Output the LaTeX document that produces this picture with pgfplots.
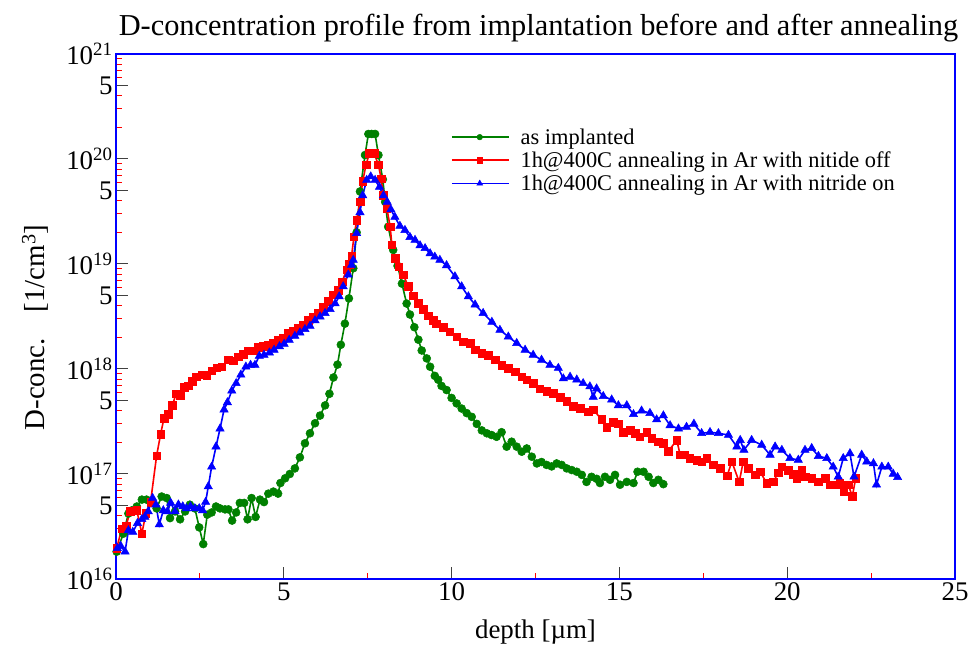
\documentclass[border=0pt]{standalone}
\usepackage{fontspec}
\setmainfont{Liberation Serif}
\usepackage{pgfplots}
\pgfplotsset{compat=1.18}
\definecolor{dgreen}{RGB}{0,128,0}
\begin{document}
\begin{tikzpicture}
\path[use as bounding box] (-116bp,-80bp) rectangle (853bp,579bp);
\begin{axis}[
  scale only axis, width=839bp, height=525bp,
  xmin=0, xmax=25, ymin=1e16, ymax=1e21, ymode=log,
  axis line style={blue, line width=2.5bp},
  tick pos=left, tick align=inside,
  xtick={0,5,10,15,20,25}, xticklabels={0,5,10,15,20,25},
  minor xtick={2.5,7.5,12.5,17.5,22.5},
  ytick={1e16,5e16,1e17,5e17,1e18,5e18,1e19,5e19,1e20,5e20,1e21},
  yticklabels={10\textsuperscript{16},5,10\textsuperscript{17},5,10\textsuperscript{18},5,10\textsuperscript{19},5,10\textsuperscript{20},5,10\textsuperscript{21}},
  minor ytick={2e16,3e16,4e16,6e16,7e16,8e16,9e16,2e17,3e17,4e17,6e17,7e17,8e17,9e17,2e18,3e18,4e18,6e18,7e18,8e18,9e18,2e19,3e19,4e19,6e19,7e19,8e19,9e19,2e20,3e20,4e20,6e20,7e20,8e20,9e20},
  major tick length=12bp, minor tick length=6bp,
  major tick style={black!75, line width=1bp},
  minor tick style={red, line width=1bp},
  ticklabel style={font=\fontsize{27}{30}\selectfont},
  title={D-concentration profile from implantation before and after annealing},
  title style={font=\fontsize{30.5}{33}\selectfont, at={(axis description cs:0.5,1)}, anchor=base, yshift=12bp, xshift=3bp},
  ylabel={D-conc.\hspace{0.9em}[1/cm\textsuperscript{3}]},
  ylabel style={font=\fontsize{29}{31}\selectfont, at={(axis description cs:-0.0965,0.479)}, anchor=center},
  xlabel={depth [µm]},
  xlabel style={font=\fontsize{27}{30}\selectfont, at={(axis description cs:0.5,0)}, anchor=center, yshift=-53bp},
  legend cell align=left,
  legend style={draw=none, fill=none, font=\fontsize{22.5}{24}\selectfont, at={(axis description cs:0.399,0.862)}, anchor=north west, inner sep=0pt, row sep=2bp, /tikz/every odd column/.append style={column sep=9bp}},
  legend image code/.code={\draw[mark repeat=2, mark phase=2, #1, every mark/.append style={scale=0.7}] plot coordinates {(0bp,0bp) (28bp,0bp) (57bp,0bp)};},
]
\addplot[dgreen, line width=1.6bp, mark=*, mark size=4bp, mark options={line width=0.5bp}] coordinates {
(0.02,1.82e16) (0.22,2.7e16) (0.37,4.2e16) (0.47,4.5e16) (0.62,4.9e16) (0.77,5.7e16) (0.91,5.7e16) (1.06,5.3e16) (1.21,4.7e16) (1.36,6.1e16) (1.51,5.9e16) (1.61,3.8e16) (1.76,4.4e16) (1.91,3.7e16) (2.06,4.4e16) (2.2,5.1e16) (2.35,4.7e16) (2.48,3.1e16) (2.6,2.15e16) (2.72,4.1e16) (2.85,4.3e16) (2.98,4.9e16) (3.1,4.7e16) (3.25,4.6e16) (3.35,4.6e16) (3.46,3.6e16) (3.58,4.3e16) (3.69,5.3e16) (3.82,5.3e16) (3.92,3.7e16) (4.04,5.9e16) (4.16,3.9e16) (4.29,5.7e16) (4.41,5.4e16) (4.54,6.5e16) (4.69,6.8e16) (4.83,6.5e16) (4.9,8.2e16) (5.04,9.1e16) (5.18,1.0e17) (5.33,1.13e17) (5.48,1.44e17) (5.63,1.96e17) (5.78,2.44e17) (5.93,3.04e17) (6.08,3.6e17) (6.23,4.5e17) (6.36,5.8e17) (6.48,8.3e17) (6.6,1.1e18) (6.7,1.7e18) (6.82,2.7e18) (6.94,4.7e18) (7.07,9.1e18) (7.17,2.0e19) (7.27,4.9e19) (7.42,1.09e20) (7.52,1.73e20) (7.62,1.73e20) (7.72,1.73e20) (7.82,1.09e20) (7.95,6.4e19) (8.02,3.9e19) (8.11,2.26e19) (8.26,1.36e19) (8.39,9.6e18) (8.52,6.5e18) (8.66,4.2e18) (8.76,3.3e18) (8.89,2.5e18) (9.01,1.9e18) (9.11,1.5e18) (9.26,1.26e18) (9.36,1.05e18) (9.5,8.6e17) (9.6,7.9e17) (9.7,6.9e17) (9.85,6.3e17) (10.0,5.3e17) (10.15,4.7e17) (10.3,4.2e17) (10.45,3.8e17) (10.6,3.5e17) (10.75,3.0e17) (10.9,2.6e17) (11.05,2.44e17) (11.19,2.35e17) (11.34,2.26e17) (11.49,2.5e17) (11.64,1.82e17) (11.79,2.03e17) (11.94,1.82e17) (12.09,1.63e17) (12.24,1.75e17) (12.39,1.46e17) (12.54,1.26e17) (12.68,1.3e17) (12.83,1.22e17) (12.98,1.18e17) (13.13,1.26e17) (13.28,1.22e17) (13.43,1.13e17) (13.58,1.09e17) (13.73,1.05e17) (13.88,9.8e16) (14.02,8.4e16) (14.17,9.4e16) (14.32,9.0e16) (14.42,8.2e16) (14.57,9.4e16) (14.72,8.8e16) (14.87,9.8e16) (15.02,7.9e16) (15.22,8.4e16) (15.42,8.2e16) (15.54,1.05e17) (15.72,1.05e17) (15.87,9.4e16) (16.01,8.2e16) (16.16,8.8e16) (16.31,8.0e16)
};
\addlegendentry{as implanted}
\addplot[red, line width=1.6bp, mark=square*, mark size=3.8bp, mark options={line width=0.5bp}] coordinates {
(0.02,1.96e16) (0.17,3.0e16) (0.3,3.2e16) (0.42,4.4e16) (0.62,4.5e16) (0.77,2.7e16) (0.89,4.2e16) (1.03,5.4e16) (1.21,1.49e17) (1.33,2.4e17) (1.43,3.4e17) (1.56,3.7e17) (1.68,4.5e17) (1.79,5.8e17) (1.91,5.6e17) (2.03,6.7e17) (2.15,6.9e17) (2.28,7.6e17) (2.4,8.4e17) (2.55,8.8e17) (2.7,8.7e17) (2.85,9.6e17) (3.0,1.03e18) (3.15,1.05e18) (3.34,1.22e18) (3.5,1.2e18) (3.65,1.31e18) (3.79,1.39e18) (3.94,1.49e18) (4.09,1.49e18) (4.24,1.6e18) (4.39,1.64e18) (4.54,1.69e18) (4.69,1.76e18) (4.84,1.89e18) (4.99,1.99e18) (5.13,2.19e18) (5.28,2.28e18) (5.43,2.44e18) (5.58,2.6e18) (5.73,2.9e18) (5.88,3.15e18) (6.03,3.4e18) (6.18,3.9e18) (6.33,4.4e18) (6.48,5.1e18) (6.62,5.6e18) (6.74,6.8e18) (6.87,8.8e18) (6.95,1.0e19) (7.02,1.2e19) (7.09,1.82e19) (7.17,2.6e19) (7.27,3.9e19) (7.35,6.1e19) (7.45,8.8e19) (7.55,1.13e20) (7.69,1.13e20) (7.82,8.8e19) (7.9,6.5e19) (7.97,4.5e19) (8.07,3.4e19) (8.17,2.26e19) (8.22,1.52e19) (8.32,1.13e19) (8.42,9.4e18) (8.56,7.9e18) (8.71,6.1e18) (8.86,5.0e18) (9.01,4.2e18) (9.16,3.7e18) (9.31,3.2e18) (9.46,2.9e18) (9.55,2.7e18) (9.75,2.5e18) (9.95,2.26e18) (10.15,2.03e18) (10.35,1.82e18) (10.55,1.76e18) (10.7,1.52e18) (10.9,1.41e18) (11.1,1.36e18) (11.3,1.22e18) (11.49,1.09e18) (11.69,1.02e18) (11.89,9.4e17) (12.09,8.4e17) (12.24,7.9e17) (12.43,7.3e17) (12.63,6.5e17) (12.83,6.1e17) (13.03,5.9e17) (13.23,5.4e17) (13.43,4.9e17) (13.63,4.4e17) (13.83,4.2e17) (14.07,3.9e17) (14.22,4.1e17) (14.47,3.3e17) (14.62,2.8e17) (14.82,3.1e17) (14.97,3.0e17) (15.12,2.5e17) (15.32,2.6e17) (15.47,2.44e17) (15.61,2.26e17) (15.81,2.5e17) (15.96,2.19e17) (16.16,2.03e17) (16.31,1.96e17) (16.46,1.65e17) (16.71,2.1e17) (16.81,1.52e17) (16.95,1.52e17) (17.1,1.41e17) (17.3,1.36e17) (17.45,1.31e17) (17.6,1.41e17) (17.8,1.22e17) (18.0,1.13e17) (18.21,9.6e16) (18.35,1.31e17) (18.57,8.4e16) (18.69,1.31e17) (18.84,1.13e17) (19.04,9.8e16) (19.19,1.05e17) (19.39,8.2e16) (19.59,8.4e16) (19.73,1.03e17) (19.84,1.17e17) (20.03,1.09e17) (20.18,1.0e17) (20.28,9.1e16) (20.43,1.09e17) (20.53,9.4e16) (20.73,9.1e16) (20.93,8.4e16) (21.13,9.1e16) (21.28,7.9e16) (21.48,7.9e16) (21.57,8.2e16) (21.69,6.8e16) (21.82,7.9e16) (21.94,6.1e16) (22.04,9.1e16)
};
\addlegendentry{1h@400C annealing in Ar with nitide off}
\addplot[blue, line width=1.6bp, mark=triangle*, mark size=4.8bp, mark options={line width=0.5bp}] coordinates {
(0.04,1.96e16) (0.14,2.06e16) (0.27,1.82e16) (0.37,2.9e16) (0.5,2.8e16) (0.64,3.4e16) (0.77,3.7e16) (0.86,3.9e16) (0.96,4.4e16) (1.09,5.9e16) (1.19,5.1e16) (1.29,3.3e16) (1.41,4.5e16) (1.53,4.4e16) (1.63,5.3e16) (1.76,4.4e16) (1.86,5.1e16) (1.99,4.9e16) (2.1,4.7e16) (2.22,4.9e16) (2.35,4.7e16) (2.48,4.7e16) (2.58,4.5e16) (2.67,5.4e16) (2.75,7.6e16) (2.85,1.17e17) (2.98,1.82e17) (3.1,2.7e17) (3.22,4.1e17) (3.32,4.8e17) (3.45,6.2e17) (3.58,7.3e17) (3.72,8.8e17) (3.87,1.05e18) (4.01,1.09e18) (4.14,1.09e18) (4.27,1.33e18) (4.41,1.36e18) (4.57,1.43e18) (4.71,1.52e18) (4.87,1.64e18) (5.01,1.73e18) (5.16,1.89e18) (5.33,2.06e18) (5.48,2.22e18) (5.63,2.39e18) (5.78,2.57e18) (5.93,2.9e18) (6.08,3.15e18) (6.23,3.4e18) (6.38,3.7e18) (6.53,4.2e18) (6.65,4.9e18) (6.77,6.1e18) (6.92,7.9e18) (7.02,9.8e18) (7.07,1.09e19) (7.17,1.96e19) (7.27,3.1e19) (7.35,4.5e19) (7.47,6.3e19) (7.59,6.8e19) (7.72,6.3e19) (7.85,5.4e19) (7.97,4.5e19) (8.08,3.9e19) (8.19,3.3e19) (8.31,2.8e19) (8.46,2.3e19) (8.61,2.1e19) (8.76,1.8e19) (8.91,1.69e19) (9.06,1.5e19) (9.21,1.41e19) (9.36,1.26e19) (9.5,1.17e19) (9.65,1.09e19) (9.85,9.7e18) (10.1,7.6e18) (10.3,6.1e18) (10.5,4.9e18) (10.7,4.1e18) (10.94,3.4e18) (11.2,2.8e18) (11.44,2.35e18) (11.69,2.03e18) (11.94,1.76e18) (12.19,1.52e18) (12.43,1.36e18) (12.68,1.22e18) (12.93,1.09e18) (13.18,1.02e18) (13.33,8.1e17) (13.53,8.4e17) (13.73,7.9e17) (13.92,7.3e17) (14.12,6.8e17) (14.22,5.4e17) (14.32,6.5e17) (14.52,5.5e17) (14.77,5.1e17) (14.97,4.5e17) (15.22,4.5e17) (15.42,3.7e17) (15.66,4.0e17) (15.91,3.8e17) (16.11,3.3e17) (16.31,3.6e17) (16.51,2.9e17) (16.76,2.7e17) (17.0,2.8e17) (17.22,3.0e17) (17.45,2.44e17) (17.7,2.5e17) (17.95,2.44e17) (18.25,2.35e17) (18.5,1.82e17) (18.6,2.1e17) (18.71,1.69e17) (18.94,2.1e17) (19.24,1.89e17) (19.49,1.52e17) (19.64,1.82e17) (19.84,1.69e17) (20.08,1.41e17) (20.33,1.36e17) (20.53,1.69e17) (20.73,1.76e17) (20.93,1.48e17) (21.18,1.41e17) (21.37,1.17e17) (21.52,9.4e16) (21.67,1.41e17) (21.87,1.57e17) (21.99,9.4e16) (22.22,1.52e17) (22.37,1.31e17) (22.57,1.26e17) (22.66,7.9e16) (22.82,1.17e17) (23.01,1.17e17) (23.16,1.0e17) (23.29,9.3e16)
};
\addlegendentry{1h@400C annealing in Ar with nitride on}
\end{axis}
\end{tikzpicture}
\end{document}
